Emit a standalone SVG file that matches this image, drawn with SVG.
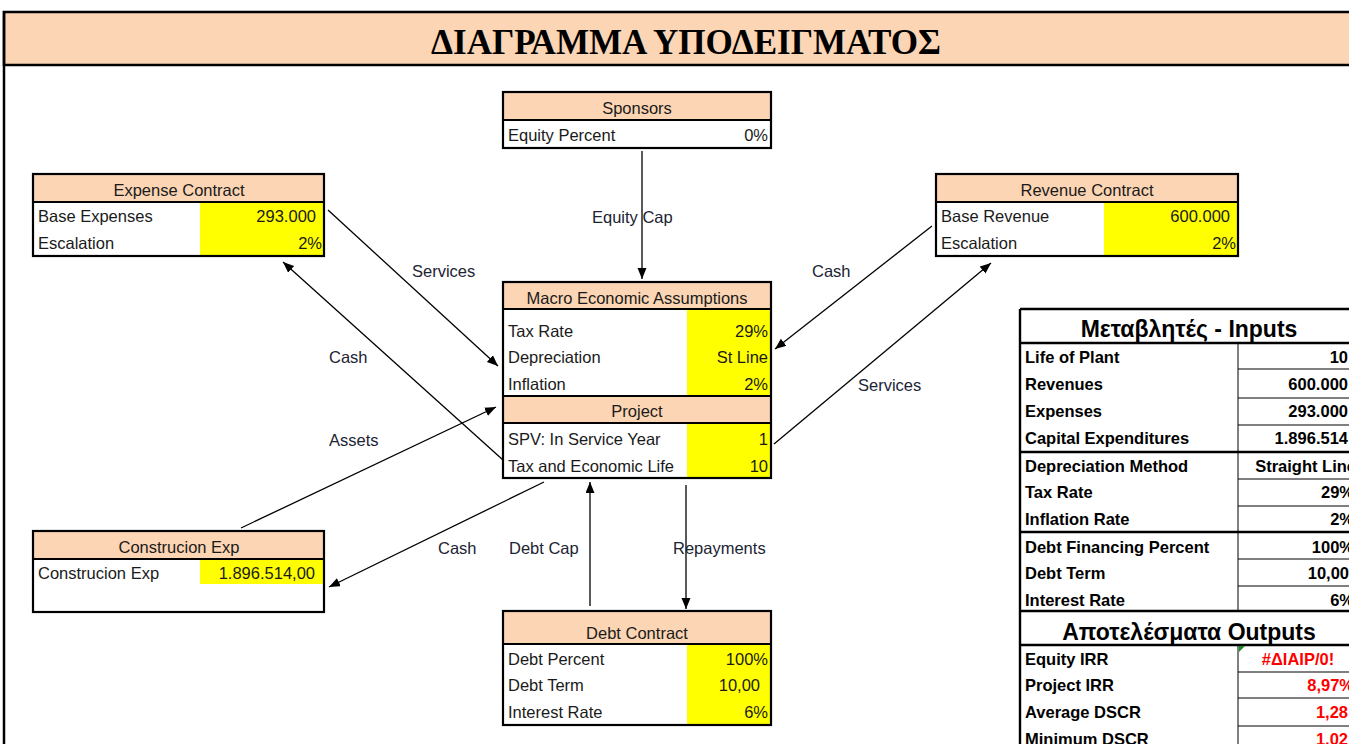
<svg xmlns="http://www.w3.org/2000/svg" width="1349" height="744" viewBox="0 0 1349 744">
<style>
.hdr{fill:#FCD5B4}
.yel{fill:#FFFF00}
.wht{fill:#FFFFFF}
.bx{fill:none;stroke:#000;stroke-width:2.2}
.sep{stroke:#000;stroke-width:2}
.t{font-family:"Liberation Sans",Arial,sans-serif;font-size:16.5px;fill:#1a1a1a}
.c{text-anchor:middle}
.r{text-anchor:end}
.lbl{font-family:"Liberation Sans",Arial,sans-serif;font-size:16.5px;fill:#1c2333}
.con{stroke:#000;stroke-width:1.3;fill:none;marker-end:url(#ah)}
.tb{font-family:"Liberation Sans",Arial,sans-serif;font-size:16.5px;font-weight:bold;fill:#000}
.ttl{font-family:"Liberation Sans",Arial,sans-serif;font-size:23px;font-weight:bold;fill:#000}
.red{fill:#FF0000}
.thin{stroke:#000;stroke-width:1}
.thick{stroke:#000;stroke-width:2.4}
</style>
<defs>
<marker id="ah" markerUnits="userSpaceOnUse" markerWidth="12" markerHeight="10" refX="11" refY="4.5" orient="auto">
<path d="M0,0 L11,4.5 L0,9 z" fill="#000"/>
</marker>
</defs>
<rect x="0" y="0" width="1349" height="744" fill="#fff"/>
<g id="title">
<rect x="4" y="12" width="1350" height="53" class="hdr" stroke="#000" stroke-width="2.5"/>
<line x1="4" y1="11" x2="4" y2="744" stroke="#000" stroke-width="2.5"/>
<text x="686" y="54" text-anchor="middle" font-family="'Liberation Serif','Times New Roman',serif" font-weight="bold" font-size="36" textLength="510" lengthAdjust="spacingAndGlyphs" fill="#000">ΔΙΑΓΡΑΜΜΑ ΥΠΟΔΕΙΓΜΑΤΟΣ</text>
</g>
<g id="connectors">
<line class="con" x1="642" y1="151" x2="642" y2="279"/>
<line class="con" x1="328" y1="210" x2="498" y2="366"/>
<line class="con" x1="503" y1="460" x2="283" y2="262"/>
<line class="con" x1="241" y1="528" x2="496" y2="407"/>
<line class="con" x1="932" y1="226" x2="775" y2="349"/>
<line class="con" x1="774" y1="444" x2="991" y2="263"/>
<line class="con" x1="544" y1="482" x2="329" y2="587"/>
<line class="con" x1="590" y1="606" x2="590" y2="482"/>
<line class="con" x1="686" y1="485" x2="686" y2="609"/>
<text class="lbl" x="592" y="223">Equity Cap</text>
<text class="lbl" x="412" y="277">Services</text>
<text class="lbl" x="329" y="363">Cash</text>
<text class="lbl" x="329" y="446">Assets</text>
<text class="lbl" x="812" y="277">Cash</text>
<text class="lbl" x="858" y="391">Services</text>
<text class="lbl" x="438" y="554">Cash</text>
<text class="lbl" x="509" y="554">Debt Cap</text>
<text class="lbl" x="673" y="554">Repayments</text>
</g>
<g id="sponsors">
<rect x="503" y="92" width="268" height="28" class="hdr"/>
<rect x="503" y="120" width="268" height="28" class="wht"/>
<line x1="503" y1="120" x2="771" y2="120" class="sep"/>
<rect x="503" y="92" width="268" height="56" class="bx"/>
<text class="t c" x="637" y="114">Sponsors</text>
<text class="t" x="508" y="141">Equity Percent</text>
<text class="t r" x="768" y="141">0%</text>
</g>
<g id="expense">
<rect x="33" y="174" width="291" height="28" class="hdr"/>
<rect x="200" y="202" width="124" height="54" class="yel"/>
<line x1="33" y1="202" x2="324" y2="202" class="sep"/>
<rect x="33" y="174" width="291" height="82" class="bx"/>
<text class="t c" x="179" y="196">Expense Contract</text>
<text class="t" x="38" y="222">Base Expenses</text>
<text class="t r" x="316" y="222">293.000</text>
<text class="t" x="38" y="249">Escalation</text>
<text class="t r" x="322" y="249">2%</text>
</g>
<g id="revenue">
<rect x="936" y="174" width="302" height="28" class="hdr"/>
<rect x="1104" y="202" width="134" height="54" class="yel"/>
<line x1="936" y1="202" x2="1238" y2="202" class="sep"/>
<rect x="936" y="174" width="302" height="82" class="bx"/>
<text class="t c" x="1087" y="196">Revenue Contract</text>
<text class="t" x="941" y="222">Base Revenue</text>
<text class="t r" x="1230" y="222">600.000</text>
<text class="t" x="941" y="249">Escalation</text>
<text class="t r" x="1236" y="249">2%</text>
</g>
<g id="macro">
<rect x="503" y="282" width="268" height="27" class="hdr"/>
<rect x="687" y="309" width="84" height="87" class="yel"/>
<rect x="503" y="396" width="268" height="27" class="hdr"/>
<rect x="687" y="423" width="84" height="55" class="yel"/>
<line x1="503" y1="309" x2="771" y2="309" class="sep"/>
<line x1="503" y1="396" x2="771" y2="396" class="sep"/>
<line x1="503" y1="423" x2="771" y2="423" class="sep"/>
<rect x="503" y="282" width="268" height="196" class="bx"/>
<text class="t c" x="637" y="304">Macro Economic Assumptions</text>
<text class="t" x="508" y="337">Tax Rate</text>
<text class="t r" x="768" y="337">29%</text>
<text class="t" x="508" y="363">Depreciation</text>
<text class="t r" x="768" y="363">St Line</text>
<text class="t" x="508" y="390">Inflation</text>
<text class="t r" x="768" y="390">2%</text>
<text class="t c" x="637" y="417">Project</text>
<text class="t" x="508" y="445">SPV: In Service Year</text>
<text class="t r" x="768" y="445">1</text>
<text class="t" x="508" y="472">Tax and Economic Life</text>
<text class="t r" x="768" y="472">10</text>
</g>
<g id="construction">
<rect x="33" y="531" width="291" height="28" class="hdr"/>
<rect x="200" y="559" width="123" height="25" class="yel"/>
<line x1="33" y1="559" x2="324" y2="559" class="sep"/>
<rect x="33" y="531" width="291" height="81" class="bx"/>
<text class="t c" x="179" y="553">Construcion Exp</text>
<text class="t" x="38" y="579">Construcion Exp</text>
<text class="t r" x="315" y="579">1.896.514,00</text>
</g>
<g id="debt">
<rect x="503" y="611" width="268" height="33" class="hdr"/>
<rect x="687" y="644" width="84" height="81" class="yel"/>
<line x1="503" y1="644" x2="771" y2="644" class="sep"/>
<rect x="503" y="611" width="268" height="114" class="bx"/>
<text class="t c" x="637" y="639">Debt Contract</text>
<text class="t" x="508" y="665">Debt Percent</text>
<text class="t r" x="768" y="665">100%</text>
<text class="t" x="508" y="691">Debt Term</text>
<text class="t r" x="760" y="691">10,00</text>
<text class="t" x="508" y="718">Interest Rate</text>
<text class="t r" x="768" y="718">6%</text>
</g>
<g id="inputs-table">
<rect x="1020" y="309" width="340" height="440" fill="#fff"/>
<line x1="1020" y1="309" x2="1349" y2="309" class="thick"/>
<line x1="1020" y1="309" x2="1020" y2="744" class="thick"/>
<line x1="1238" y1="343" x2="1238" y2="611" class="thin" stroke-width="1.5"/>
<line x1="1238" y1="645" x2="1238" y2="744" class="thin" stroke-width="1.5"/>
<line x1="1020" y1="343" x2="1349" y2="343" class="thick"/>
<line x1="1020" y1="452" x2="1349" y2="452" class="thick"/>
<line x1="1020" y1="532" x2="1349" y2="532" class="thick"/>
<line x1="1020" y1="611" x2="1349" y2="611" class="thick"/>
<line x1="1020" y1="645" x2="1349" y2="645" class="thick"/>
<line x1="1238" y1="369" x2="1349" y2="369" class="thin"/>
<line x1="1238" y1="398" x2="1349" y2="398" class="thin"/>
<line x1="1238" y1="425" x2="1349" y2="425" class="thin"/>
<line x1="1238" y1="479" x2="1349" y2="479" class="thin"/>
<line x1="1238" y1="506" x2="1349" y2="506" class="thin"/>
<line x1="1238" y1="559" x2="1349" y2="559" class="thin"/>
<line x1="1238" y1="586" x2="1349" y2="586" class="thin"/>
<line x1="1238" y1="672" x2="1349" y2="672" class="thin"/>
<line x1="1238" y1="698" x2="1349" y2="698" class="thin"/>
<line x1="1238" y1="726" x2="1349" y2="726" class="thin"/>
<path d="M1239,646 L1245,646 L1239,652 z" fill="#1a8a2a"/>
<text class="ttl c" x="1189" y="337">Μεταβλητές - Inputs</text>
<text class="ttl c" x="1189" y="640">Αποτελέσματα Outputs</text>
<text class="tb" x="1025" y="363">Life of Plant</text>
<text class="tb" x="1025" y="390">Revenues</text>
<text class="tb" x="1025" y="417">Expenses</text>
<text class="tb" x="1025" y="444">Capital Expenditures</text>
<text class="tb" x="1025" y="472">Depreciation Method</text>
<text class="tb" x="1025" y="498">Tax Rate</text>
<text class="tb" x="1025" y="525">Inflation Rate</text>
<text class="tb" x="1025" y="553">Debt Financing Percent</text>
<text class="tb" x="1025" y="579">Debt Term</text>
<text class="tb" x="1025" y="606">Interest Rate</text>
<text class="tb" x="1025" y="665">Equity IRR</text>
<text class="tb" x="1025" y="691">Project IRR</text>
<text class="tb" x="1025" y="718">Average DSCR</text>
<text class="tb" x="1025" y="745">Minimum DSCR</text>
<text class="tb r" x="1348" y="363">10</text>
<text class="tb r" x="1348" y="390">600.000</text>
<text class="tb r" x="1348" y="417">293.000</text>
<text class="tb r" x="1348" y="444">1.896.514</text>
<text class="tb r" x="1356" y="472">Straight Line</text>
<text class="tb r" x="1354" y="498">29%</text>
<text class="tb r" x="1354" y="525">2%</text>
<text class="tb r" x="1354" y="553">100%</text>
<text class="tb r" x="1349" y="579">10,00</text>
<text class="tb r" x="1354" y="606">6%</text>
<text class="tb c red" x="1298" y="665">#ΔΙΑΙΡ/0!</text>
<text class="tb r red" x="1354" y="691">8,97%</text>
<text class="tb r red" x="1348" y="718">1,28</text>
<text class="tb r red" x="1348" y="745">1,02</text>
</g>
</svg>
